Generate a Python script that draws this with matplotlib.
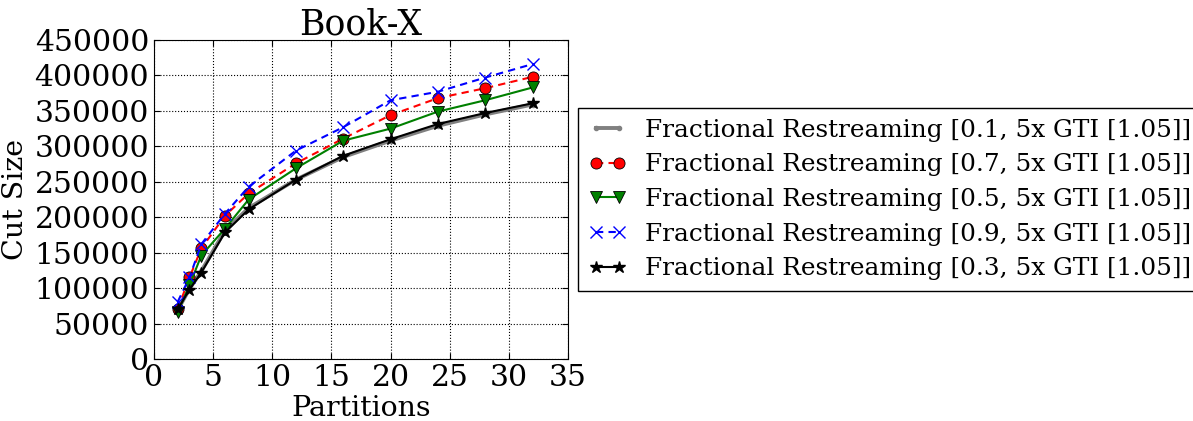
import matplotlib
matplotlib.use('Agg')
import matplotlib.pyplot as plt

plt.rcParams['font.family'] = 'DejaVu Serif'
plt.rcParams['mathtext.fontset'] = 'dejavuserif'

partitions = [2, 3, 4, 6, 8, 12, 16, 20, 24, 28, 32]

# cut size per restreaming fraction
cut_01 = [69000, 99000, 124000, 181000, 213000, 253000, 285000, 308000, 329000, 345000, 359000]
cut_07 = [70000, 115000, 156000, 202000, 233500, 276000, 311000, 344000, 368000, 382000, 398000]
cut_05 = [66000, 104000, 146000, 184000, 225000, 269000, 308000, 325000, 349000, 365000, 383000]
cut_09 = [80500, 115000, 162000, 205000, 243000, 294000, 327000, 365000, 377000, 397000, 416000]
cut_03 = [70000, 98000, 122000, 178500, 211000, 253000, 286700, 310000, 331500, 347000, 360700]

labels = ['Fractional Restreaming [0.1, 5x GTI [1.05]]',
          'Fractional Restreaming [0.7, 5x GTI [1.05]]',
          'Fractional Restreaming [0.5, 5x GTI [1.05]]',
          'Fractional Restreaming [0.9, 5x GTI [1.05]]',
          'Fractional Restreaming [0.3, 5x GTI [1.05]]']

fig = plt.figure(figsize=(11.93, 4.21), dpi=100)
ax = fig.add_axes([154/1193, 1 - 359/421, 414/1193, 319/421])

dash = (3.5, 2.5)
ax.plot(partitions, cut_01, '-', color='#808080', lw=2.8, marker='.', ms=6, label=labels[0])
ax.plot(partitions, cut_07, '--', dashes=dash, color='red', lw=1.5, marker='o', ms=8,
        mec='black', mew=0.6, label=labels[1])
ax.plot(partitions, cut_05, '-', color='green', lw=1.5, marker='v', ms=8.5,
        mec='black', mew=0.6, label=labels[2])
ax.plot(partitions, cut_09, '--', dashes=dash, color='blue', lw=1.5, marker='x', ms=8.5,
        mew=1.0, label=labels[3])
ax.plot(partitions, cut_03, '-', color='black', lw=1.5, marker='*', ms=9, label=labels[4])

ax.set_xlim(0, 35)
ax.set_ylim(0, 450000)
ax.set_xticks(range(0, 36, 5))
ax.set_yticks(range(0, 450001, 50000))
ax.tick_params(direction='in', top=True, right=True, labelsize=21.5, length=4)
ax.grid(True, color='black', linestyle=':', linewidth=0.8)
ax.set_xlabel('Partitions', fontsize=20.5, labelpad=2)
ax.set_ylabel('Cut Size', fontsize=20.5)
ax.set_title('Book-X', fontsize=25, pad=4)

ax.legend(loc='center left', bbox_to_anchor=(1.024, 0.5), borderaxespad=0,
          fontsize=17.8, numpoints=2, fancybox=False, framealpha=1, edgecolor='black',
          handlelength=1.55, handletextpad=0.75, borderpad=0.42, labelspacing=0.47)

plt.savefig('out.png', dpi=100)
